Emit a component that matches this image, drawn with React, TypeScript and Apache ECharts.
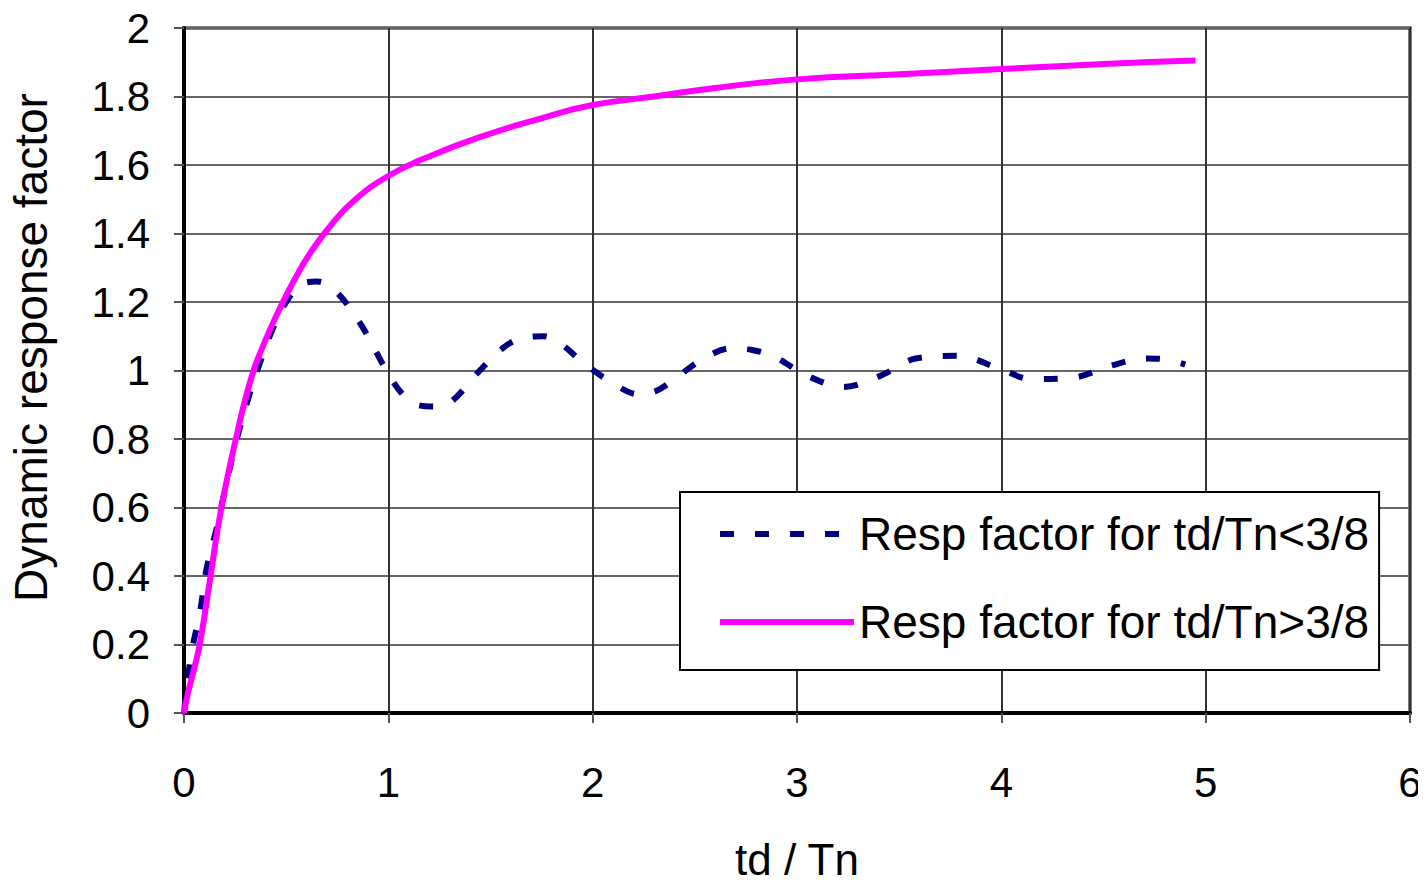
import React, { useEffect, useRef } from "react";
import * as echarts from "echarts";

// td/Tn ratios and response factors for the short-duration case (td/Tn < 3/8)
const shortX = [
  0, 0.035, 0.08, 0.11, 0.16, 0.2, 0.25, 0.31, 0.37, 0.44, 0.5, 0.57, 0.65, 0.745, 0.87, 0.99,
  1.07, 1.14, 1.23, 1.31, 1.44, 1.57, 1.66, 1.76, 1.85, 1.94, 2.08, 2.23, 2.31, 2.39, 2.53,
  2.68, 2.78, 2.89, 3.05, 3.23, 3.41, 3.58, 3.79, 3.98, 4.15, 4.36, 4.53, 4.71, 4.8, 4.9,
];
const shortY = [
  0, 0.17, 0.3, 0.42, 0.54, 0.65, 0.78, 0.91, 1.02, 1.13, 1.2, 1.25, 1.26, 1.23, 1.13, 1.0,
  0.93, 0.9, 0.895, 0.91, 0.995, 1.07, 1.095, 1.1, 1.075, 1.03, 0.97, 0.93, 0.94, 0.97, 1.03,
  1.065, 1.06, 1.04, 0.985, 0.952, 0.985, 1.035, 1.043, 1.008, 0.975, 0.98, 1.013, 1.035, 1.033,
  1.017,
];

// td/Tn ratios and response factors for the long-duration case (td/Tn > 3/8)
const longX = [
  0, 0.02, 0.05, 0.08, 0.13, 0.18, 0.25, 0.33, 0.4, 0.46, 0.545, 0.62, 0.72, 0.84, 1.0, 1.16,
  1.44, 1.77, 2.0, 2.3, 2.6, 3.0, 3.5, 4.0, 4.5, 4.95,
];
const longY = [
  0, 0.06, 0.13, 0.21, 0.4, 0.59, 0.79, 0.98, 1.09, 1.17, 1.27, 1.345, 1.425, 1.5, 1.568, 1.615,
  1.68, 1.74, 1.775, 1.8, 1.825, 1.85, 1.865, 1.88, 1.895, 1.905,
];

const seriesNames = ["Resp factor for td/Tn<3/8", "Resp factor for td/Tn>3/8"];
const xAxisTitle = "td / Tn";
const yAxisTitle = "Dynamic response factor";

const FONT = "'Liberation Sans', Arial, sans-serif";

export default function App() {
  const ref = useRef<HTMLDivElement>(null);

  useEffect(() => {
    if (!ref.current) return;
    const chart = echarts.init(ref.current, undefined, { renderer: "svg" });
    const pair = (xs: number[], ys: number[]) => xs.map((x, i) => [x, ys[i]]);

    chart.setOption({
      animation: false,
      backgroundColor: "#ffffff",
      textStyle: { fontFamily: FONT },
      grid: {
        left: 184,
        right: 16,
        top: 28,
        bottom: 165,
        show: true,
        borderColor: "#000",
        borderWidth: 3,
        backgroundColor: "transparent",
      },
      legend: {
        orient: "vertical",
        left: 680,
        top: 492,
        padding: [18, 10, 24, 37],
        itemGap: 40,
        itemWidth: 134,
        itemHeight: 14,
        backgroundColor: "#fff",
        borderColor: "#000",
        borderWidth: 2,
        borderRadius: 0,
        itemStyle: { opacity: 0 },
        lineStyle: { width: 6 },
        textStyle: { fontFamily: FONT, fontSize: 46, color: "#000", lineHeight: 48 },
        data: seriesNames,
      },
      xAxis: {
        type: "value",
        min: 0,
        max: 6,
        interval: 1,
        name: xAxisTitle,
        nameLocation: "middle",
        nameGap: 124,
        nameTextStyle: { fontFamily: FONT, fontSize: 44, color: "#000" },
        axisLine: { show: true, lineStyle: { color: "#000", width: 4 } },
        axisTick: { show: true, inside: false, length: 10, lineStyle: { color: "#555", width: 2 } },
        axisLabel: { margin: 48, fontFamily: FONT, fontSize: 42, color: "#000" },
        splitLine: { show: true, lineStyle: { color: "#333", width: 2 } },
      },
      yAxis: {
        type: "value",
        min: 0,
        max: 2,
        interval: 0.2,
        name: yAxisTitle,
        nameLocation: "middle",
        nameGap: 130,
        nameRotate: 90,
        nameTextStyle: { fontFamily: FONT, fontSize: 46, color: "#000", padding: [0, 0, 0, 46] },
        axisLine: { show: true, lineStyle: { color: "#000", width: 4 } },
        axisTick: { show: true, inside: false, length: 10, lineStyle: { color: "#555", width: 2 } },
        axisLabel: {
          margin: 34,
          fontFamily: FONT,
          fontSize: 42,
          color: "#000",
          formatter: (v: number) => String(Math.round(v * 10) / 10),
        },
        splitLine: { show: true, lineStyle: { color: "#666", width: 2 } },
      },
      series: [
        {
          name: seriesNames[0],
          type: "line",
          data: pair(shortX, shortY),
          symbol: "none",
          smooth: 0.35,
          lineStyle: { color: "#000080", width: 6, type: [14, 21] },
          itemStyle: { color: "#000080" },
          z: 2,
        },
        {
          name: seriesNames[1],
          type: "line",
          data: pair(longX, longY),
          symbol: "none",
          smooth: 0.5,
          lineStyle: { color: "#ff00ff", width: 6 },
          itemStyle: { color: "#ff00ff" },
          z: 3,
        },
      ],
    });

    return () => chart.dispose();
  }, []);

  return <div ref={ref} style={{ width: 1426, height: 886, margin: -8 }} />;
}
